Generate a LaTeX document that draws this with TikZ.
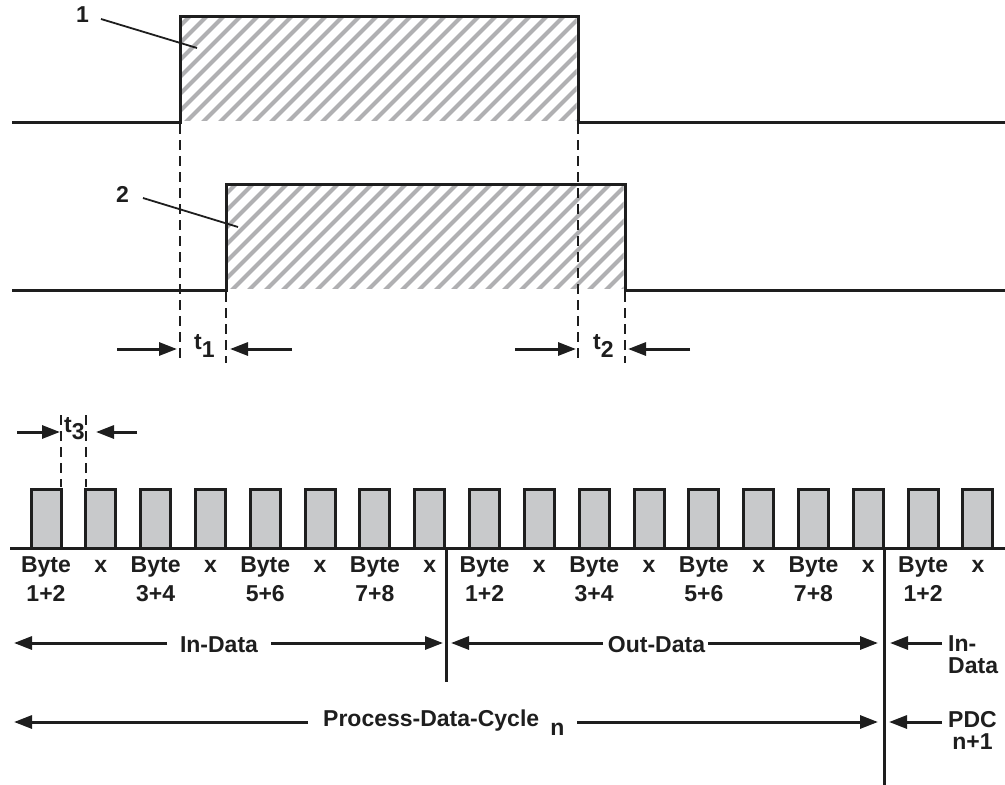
\documentclass[tikz,border=0pt]{standalone}
\usepackage{fontspec}
\setmainfont{Liberation Sans}
\usetikzlibrary{arrows.meta}
\definecolor{pulsegray}{RGB}{200,201,203}
\definecolor{hatchgray}{RGB}{176,176,178}
\definecolor{ink}{RGB}{30,30,30}
\begin{document}
\begin{tikzpicture}[x=1pt,y=-1pt,
  sigline/.style={draw=ink,line width=3pt,line join=miter},
  hatchline/.style={draw=hatchgray,line width=4pt},
  guide/.style={draw=ink,line width=2.6pt,dash pattern=on 10pt off 6pt},
  leader/.style={draw=ink,line width=1.8pt},
  dimarrow/.style={draw=ink,line width=3pt,-{Triangle[length=18pt,width=13pt]}},
  pulse/.style={draw=ink,fill=pulsegray,line width=3pt},
  lbl/.style={font=\fontsize{23}{26}\selectfont\bfseries,text=ink,inner sep=0pt},
  tlbl/.style={font=\fontsize{23}{25}\selectfont\bfseries,text=ink,inner sep=0pt,anchor=base west}]
\useasboundingbox (0,0) rectangle (1005,785);

% ---------- hatching ----------
\begin{scope}
  \clip (181.5,17.5) rectangle (576.5,120.5);
  \foreach \i in {-8,...,26} \draw[hatchline] ({183+17*\i},125) -- ++(115,-115);
\end{scope}
\begin{scope}
  \clip (227.5,185.5) rectangle (623.5,288.5);
  \foreach \i in {-8,...,26} \draw[hatchline] ({229+17*\i},293) -- ++(115,-115);
\end{scope}

% ---------- guides ----------
\draw[guide] (180,124) -- (180,363);
\draw[guide] (226,292) -- (226,363);
\draw[guide] (578,124) -- (578,363);
\draw[guide] (625,292) -- (625,363);
\draw[guide] (61,415) -- (61,487);
\draw[guide] (86,415) -- (86,487);

% ---------- signals ----------
\draw[sigline] (12,122) -- (180,122) -- (180,16) -- (578,16) -- (578,122) -- (1005,122);
\draw[sigline] (12,290) -- (226,290) -- (226,184) -- (625,184) -- (625,290) -- (1005,290);

\node[lbl,anchor=base west] (n1) at (76,22) {1};
\node[lbl,anchor=base west] (n2) at (116,202) {2};
\coordinate (p1) at (197,48);
\coordinate (p2) at (238,227);
\draw[leader] (101,19) -- (p1);
\draw[leader] (143,198) -- (p2);

% ---------- t1 / t2 ----------
\node[tlbl] (t1) at (194,349) {t\raisebox{-8pt}{1}};
\node[tlbl] (t2) at (593,349) {t\raisebox{-8pt}{2}};
\coordinate (t1a) at (177,349); \coordinate (t1b) at (230,349);
\coordinate (t2a) at (576,349); \coordinate (t2b) at (628,349);
\draw[dimarrow] (117,349) -- (t1a);
\draw[dimarrow] (292,349) -- (t1b);
\draw[dimarrow] (515,349) -- (t2a);
\draw[dimarrow] (690,349) -- (t2b);

% ---------- pulses ----------
\draw[sigline] (10,548) -- (1005,548);
\foreach \i in {0,...,17} {
  \draw[pulse] ({31+54.82*\i},548) rectangle ({61+54.82*\i},489);
}
\node[tlbl] (t3) at (64,432) {t\raisebox{-7pt}{3}};
\coordinate (t3a) at (60,432); \coordinate (t3b) at (96,432);
\draw[dimarrow] (17,432) -- (t3a);
\draw[dimarrow] (137,432) -- (t3b);

% byte labels
\foreach \i/\num in {0/1+2,2/3+4,4/5+6,6/7+8,8/1+2,10/3+4,12/5+6,14/7+8,16/1+2} {
  \node[lbl,anchor=base] (b\i) at ({46+54.82*\i},572) {Byte};
  \node[lbl,anchor=base] (bn\i) at ({46+54.82*\i},601) {\num};
}
\foreach \i in {1,3,...,17} {
  \node[lbl,anchor=base] (x\i) at ({46+54.82*\i},572) {x};
}

% separators
\draw[sigline] (446,548) -- (446,682);
\draw[sigline] (884,548) -- (884,785);

% ---------- In/Out data ----------
\node[lbl,anchor=base] (indata) at (219,652) {In-Data};
\node[lbl,anchor=base] (outdata) at (656.5,652) {Out-Data};
\node[lbl,anchor=base west] (indata2) at (948,651) {In-};
\node[lbl,anchor=base west] (indata3) at (948,673) {Data};
\coordinate (a1) at (14,643); \coordinate (a2) at (443,643);
\coordinate (a3) at (451,643); \coordinate (a4) at (878,643);
\coordinate (a5) at (890,643);
\draw[dimarrow] (167,643) -- (a1);
\draw[dimarrow] (271,643) -- (a2);
\draw[dimarrow] (603,643) -- (a3);
\draw[dimarrow] (708,643) -- (a4);
\draw[dimarrow] (942,643) -- (a5);

% ---------- process data cycle ----------
\node[lbl,anchor=base west] (pdc) at (323,726) {Process-Data-Cycle\hspace{11pt}\raisebox{-9pt}{n}};
\node[lbl,anchor=base west] (pdc2) at (948,727) {PDC};
\node[lbl,anchor=base] (pdc3) at ([yshift=-22pt]pdc2.base) {n+1};
\coordinate (c1) at (14,722); \coordinate (c2) at (878,722);
\coordinate (c3) at (889,722);
\draw[dimarrow] (308,722) -- (c1);
\draw[dimarrow] (577,722) -- (c2);
\draw[dimarrow] (942,722) -- (c3);
\end{tikzpicture}
\end{document}
